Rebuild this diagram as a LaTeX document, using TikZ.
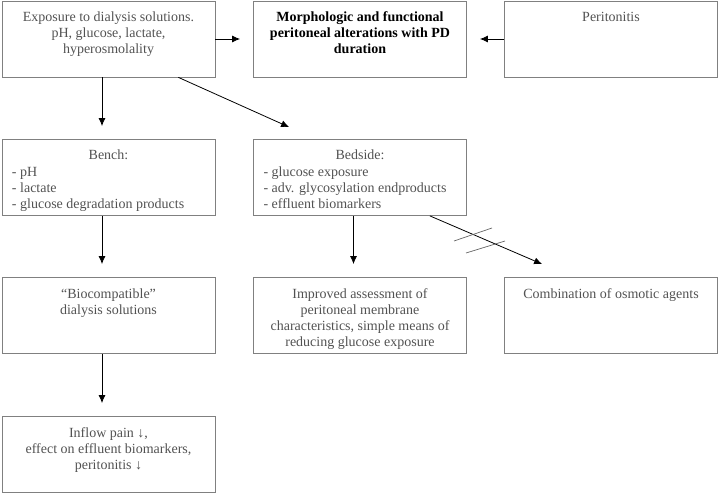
\documentclass[tikz,border=0pt]{standalone}
\usepackage{fontspec}
\setmainfont{Liberation Serif}
\usetikzlibrary{arrows.meta}

\newcommand{\cellbox}[1]{\parbox[c][76pt][t]{193pt}{\centering\rule{0pt}{20.5pt}#1}}

\begin{document}
\begin{tikzpicture}[x=1pt, y=-1pt, font=\fontsize{14}{16.2}\selectfont]
			\tikzstyle{cell}  = [draw=black!50, line width=0.8pt, inner xsep=10pt, inner ysep=0pt, text=black!68]
			\tikzstyle{arrow} = [-{Latex[length=8pt, width=7pt]}, line width=0.8pt, black, shorten >=13pt]
			\useasboundingbox (0,0) rectangle (720,494);

			% top row
			\node[cell] (expo) at (108.5,39) {\cellbox{Exposure to dialysis solutions.\\ pH, glucose, lactate,\\ hyperosmolality}};
			\node[cell, text=black, font=\fontsize{14}{16.2}\selectfont\bfseries] (morph) at (360,39) {\cellbox{Morphologic and functional\\ peritoneal alterations with PD\\ duration}};
			\node[cell] (perit) at (611,39) {\cellbox{Peritonitis}};

			% second row
			\node[cell] (bench) at (108.5,177.5) {\cellbox{Bench:\par\raggedright - pH\\ - lactate\\ - glucose degradation products}};
			\node[cell] (bedside) at (360,177.5) {\cellbox{Bedside:\par\raggedright - glucose exposure\\ - adv. glycosylation endproducts\\ - effluent biomarkers}};

			% third row
			\node[cell] (biocomp) at (108.5,315.5) {\cellbox{“Biocompatible”\\ dialysis solutions}};
			\node[cell] (improved) at (360,315.5) {\cellbox{Improved assessment of\\ peritoneal membrane\\ characteristics, simple means of\\ reducing glucose exposure}};
			\node[cell] (combo) at (611,315.5) {\cellbox{Combination of osmotic agents}};

			% last row
			\node[cell] (inflow) at (108.5,454.5) {\cellbox{Inflow pain ↓,\\ effect on effluent biomarkers,\\ peritonitis ↓}};

			\foreach \from/\to in {expo/morph, perit/morph}
				\draw[arrow] (\from) -- (\to);

			\foreach \from/\to in {expo/bench, bench/biocomp, bedside/improved, biocomp/inflow}
				\draw[arrow] ([xshift=-6.5pt]\from.south) -- ([xshift=-6.5pt]\to.north);

			\draw[arrow, shorten >=0pt] ([xshift=-37pt]expo.south east) -- ([xshift=36pt, yshift=12pt]bedside.north west);
			\draw[arrow, shorten >=0pt] ([xshift=-37pt]bedside.south east) -- ([xshift=38pt, yshift=13pt]combo.north west);

			% crossed out
			\draw[black!60, line width=0.7pt] (454,241) -- (492,228);
			\draw[black!60, line width=0.7pt] (466,253) -- (505,241);
		\end{tikzpicture}
\end{document}
